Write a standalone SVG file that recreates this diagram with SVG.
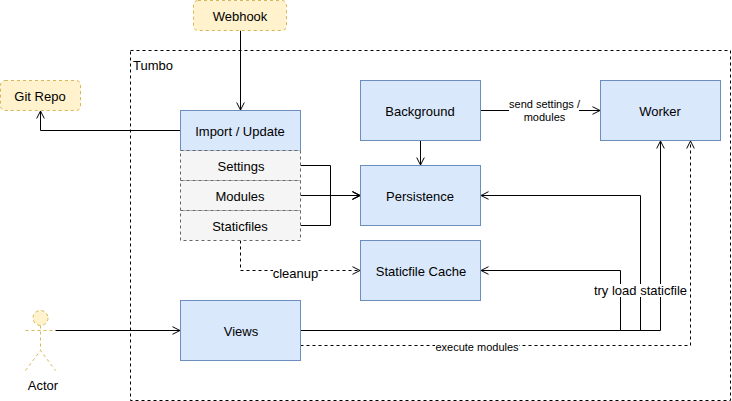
<svg xmlns="http://www.w3.org/2000/svg" width="732" height="401" viewBox="0 0 732 401">
<style>
text{font-family:"Liberation Sans",Arial,sans-serif;font-size:13px;fill:#000;text-anchor:middle}
.s{font-size:11px}
.blue{fill:#dae8fc;stroke:#6c8ebf}
.gray{fill:#f5f5f5;stroke:#666;stroke-dasharray:3 3}
.yel{fill:#fff2cc;stroke:#d6b656;stroke-dasharray:3 3}
.yl{fill:none;stroke:#d6b656;stroke-dasharray:3 3}
.c{fill:none;stroke:#000}
.d{stroke-dasharray:3 3}
.bg{fill:#fff;stroke:none}
</style>
<defs>
<marker id="a" markerUnits="userSpaceOnUse" markerWidth="12" markerHeight="12" refX="9" refY="6" orient="auto"><path d="M1.5 2.2L9 6L1.5 9.8" fill="none" stroke="#000"/></marker>
</defs>
<rect id="tumbo" x="130.500" y="50.500" width="600" height="350" fill="none" stroke="#000" stroke-dasharray="3 3"/>
<text x="153" y="70">Tumbo</text>
<g id="connectors" class="c">
<path d="M240.500 30.500V110" marker-end="url(#a)"/>
<path d="M180.500 130.500H40.500V111" marker-end="url(#a)"/>
<path d="M300.500 165.500H330.500V195.500H360" marker-end="url(#a)"/>
<path d="M300.500 195.500H360" marker-end="url(#a)"/>
<path d="M300.500 225.500H330.500V195.500H360" marker-end="url(#a)"/>
<path d="M420.500 140.500V165" marker-end="url(#a)"/>
<path d="M480.500 110.500H600" marker-end="url(#a)"/>
<path d="M240.500 240.500V270.500H360" class="d" marker-end="url(#a)"/>
<path d="M55.500 330.500H180" marker-end="url(#a)"/>
<path d="M300.500 330.500H660.500V141" marker-end="url(#a)"/>
<path d="M620.500 330.500V270.500H481" marker-end="url(#a)"/>
<path d="M640.500 330.500V195.500H481" marker-end="url(#a)"/>
<path d="M300.500 345.500H690.500V141" class="d" marker-end="url(#a)"/>
</g>
<g id="labels">
<rect class="bg" x="509" y="98" width="70" height="26"/>
<text class="s" x="544.500" y="108">send settings /</text>
<text class="s" x="544.500" y="121">modules</text>
<rect class="bg" x="273" y="268" width="45" height="11"/>
<text x="295.500" y="278">cleanup</text>
<rect class="bg" x="594" y="284" width="94" height="13"/>
<text x="640.500" y="295">try load staticfile</text>
<rect class="bg" x="435" y="342" width="84" height="11"/>
<text class="s" x="477" y="351">execute modules</text>
</g>
<g id="webhook"><rect class="yel" x="193.500" y="0.500" width="93" height="30" rx="4.500"/><text x="240" y="21">Webhook</text></g>
<g id="git-repo"><rect class="yel" x="0.500" y="80.500" width="80" height="30" rx="4.500"/><text x="40" y="101">Git Repo</text></g>
<g id="import-update"><rect class="blue" x="180.500" y="110.500" width="120" height="40"/><text x="240" y="136">Import / Update</text></g>
<g id="settings"><rect class="gray" x="180.500" y="150.500" width="120" height="30"/><text x="241" y="171">Settings</text></g>
<g id="modules"><rect class="gray" x="180.500" y="180.500" width="120" height="30"/><text x="240" y="201">Modules</text></g>
<g id="staticfiles"><rect class="gray" x="180.500" y="210.500" width="120" height="30"/><text x="240" y="231">Staticfiles</text></g>
<g id="background"><rect class="blue" x="360.500" y="80.500" width="120" height="60"/><text x="420" y="116">Background</text></g>
<g id="persistence"><rect class="blue" x="360.500" y="165.500" width="120" height="60"/><text x="420" y="201">Persistence</text></g>
<g id="worker"><rect class="blue" x="600.500" y="80.500" width="120" height="60"/><text x="660" y="116">Worker</text></g>
<g id="staticfile-cache"><rect class="blue" x="360.500" y="240.500" width="120" height="60"/><text x="421" y="276">Staticfile Cache</text></g>
<g id="views"><rect class="blue" x="180.500" y="300.500" width="120" height="60"/><text x="241" y="336">Views</text></g>
<g id="actor">
<circle cx="40.500" cy="318" r="7.500" fill="#fff2cc" stroke="#d6b656" stroke-dasharray="3 3"/>
<path class="yl" d="M40.500 325.500V350.500M25.500 330.500H55.500M25.500 370.500L40.500 350.500L55.500 370.500"/>
<text x="43" y="390">Actor</text>
</g>
</svg>
